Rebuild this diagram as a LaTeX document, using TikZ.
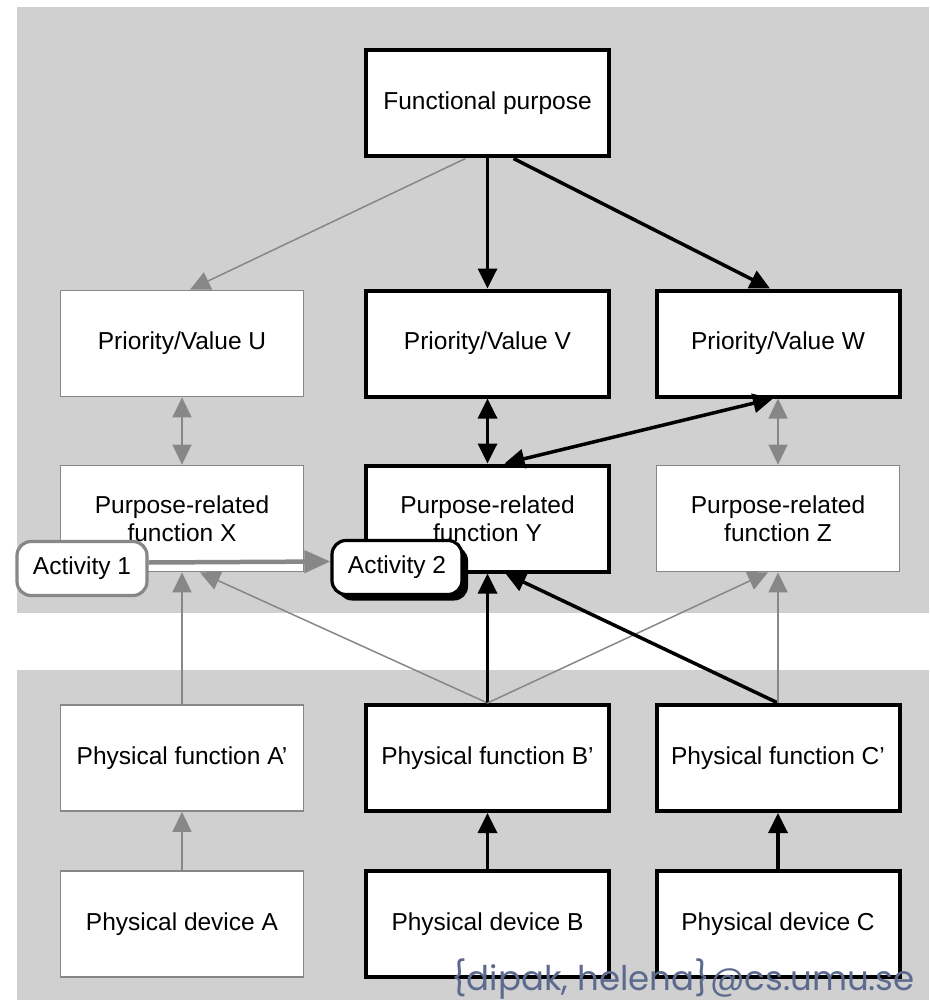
\documentclass[tikz,border=0pt]{standalone}
\usepackage{fontspec}
\setmainfont{Liberation Sans}
\newfontfamily\footfont{Poppins}
\usetikzlibrary{arrows.meta, positioning, shadows}
\definecolor{bandgray}{RGB}{208,208,208}
\definecolor{linegray}{RGB}{135,135,135}
\definecolor{mailblue}{RGB}{92,106,142}

\begin{document}
\begin{tikzpicture}[x=1pt, y=-1pt, >={Triangle[length=20pt, width=19pt]},
  weak/.style={rectangle, draw=linegray, line width=1.8pt, fill=white, minimum width=243pt, minimum height=106pt, align=center, font=\fontsize{24.5}{28.5}\selectfont},
  strong/.style={weak, draw=black, line width=4pt},
  activity/.style={rectangle, rounded corners=14pt, fill=white, line width=3.2pt, minimum width=130pt, minimum height=54pt, font=\fontsize{24.5}{28}\selectfont},
  weakarrow/.style={draw=linegray, line width=1.5pt, ->},
  strongarrow/.style={draw=black, line width=3.5pt, ->},
  flow/.style={draw=linegray, line width=4.5pt, -{Triangle[length=26pt, width=22pt]}}
]
\useasboundingbox (0,0) rectangle (929,1000);
\fill [bandgray] (17,7) rectangle (929,613);
\fill [bandgray] (17,670) rectangle (929,1000);

% purpose levels
\node (fp) [strong] at (487.5,103.5) {Functional purpose};
\node (pv) [strong, below of=fp, node distance=240pt] {Priority/Value V};
\node (pu) [weak, left of=pv, node distance=305.5pt] {Priority/Value U};
\node (pw) [strong, right of=pv, node distance=290.5pt] {Priority/Value W};
\node (fy) [strong, below of=pv, node distance=175pt] {Purpose-related\\function Y};
\node (fx) [weak, left of=fy, node distance=305.5pt] {Purpose-related\\function X};
\node (fz) [weak, right of=fy, node distance=290.5pt] {Purpose-related\\function Z};

% physical levels
\node (pfb) [strong, below of=fy, node distance=239.5pt] {Physical function B’};
\node (pfa) [weak, left of=pfb, node distance=305.5pt] {Physical function A’};
\node (pfc) [strong, right of=pfb, node distance=290.5pt] {Physical function C’};
\node (pdb) [strong, below of=pfb, node distance=166pt] {Physical device B};
\node (pda) [weak, left of=pdb, node distance=305.5pt] {Physical device A};
\node (pdc) [strong, right of=pdb, node distance=290.5pt] {Physical device C};

% activities
\node (act1) [activity, draw=linegray] at (82,568.5) {Activity 1};
\node (act2) [activity, draw=black, drop shadow={shadow xshift=6pt, shadow yshift=-6pt, opacity=1, fill=black}] at (397,567.5) {Activity 2};

\draw [weakarrow] ([xshift=-22pt]fp.south) -- ([xshift=8pt]pu.north);
\draw [strongarrow] (fp) -- (pv);
\draw [strongarrow] ([xshift=26pt]fp.south) -- ([xshift=-8pt]pw.north);

\draw [weakarrow, <->] (pu) -- (fx);
\draw [strongarrow, <->] (pv) -- (fy);
\draw [strongarrow, <->] ([xshift=-5pt]pw.south) -- ([xshift=17pt]fy.north);
\draw [weakarrow, <->] (pw) -- (fz);

\draw [weakarrow] (pfa) -- (fx);
\draw [weakarrow] (pfb.north) -- ([xshift=18pt]fx.south);
\draw [strongarrow] (pfb) -- (fy);
\draw [weakarrow] (pfb.north) -- ([xshift=-10pt]fz.south);
\draw [strongarrow] (pfc.north) -- ([xshift=18pt]fy.south);
\draw [weakarrow] (pfc) -- (fz);

\draw [weakarrow] (pda) -- (pfa);
\draw [strongarrow] (pdb) -- (pfb);
\draw [strongarrow] (pdc) -- (pfc);

\draw [flow] ([yshift=6pt]act1.east) -- ([yshift=6pt]act2.west);

\node (mail) [anchor=base west, inner sep=0pt, text=mailblue, font=\footfont\fontsize{34}{36}\selectfont] at (451,990) {\{dipak, helena\}@cs.umu.se};
\end{tikzpicture}
\end{document}
